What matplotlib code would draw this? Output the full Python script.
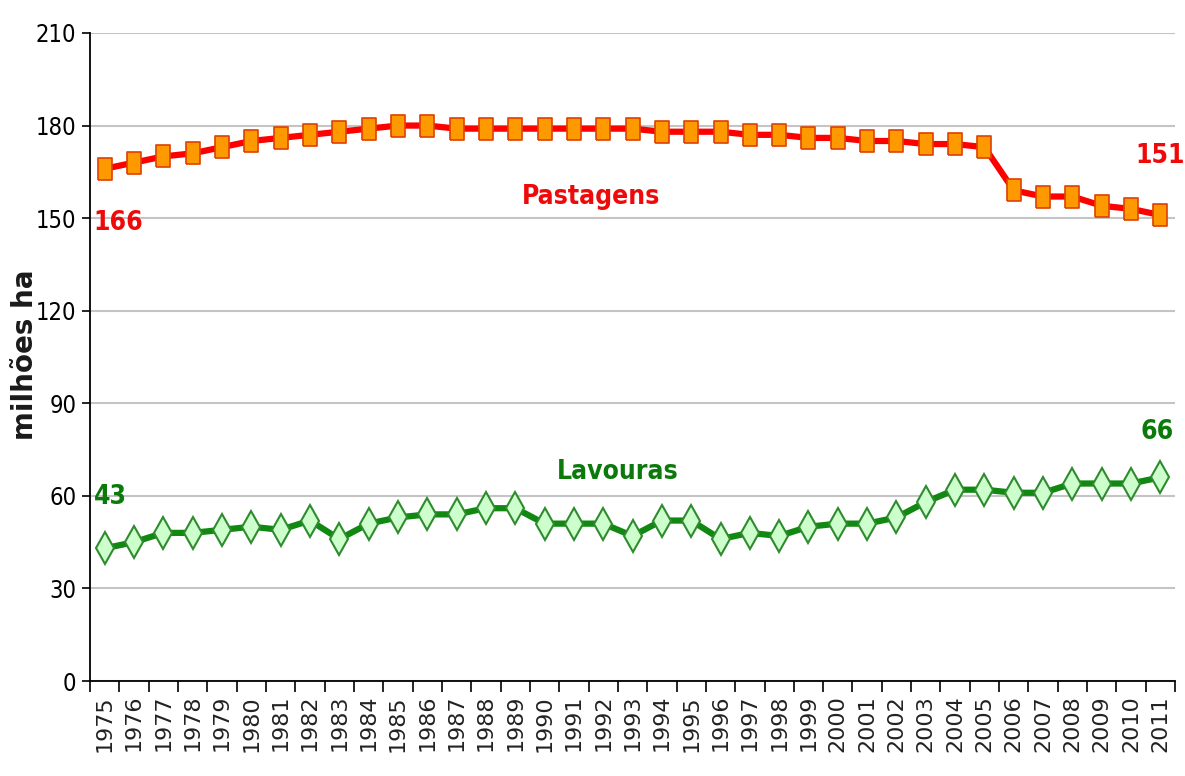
import matplotlib
matplotlib.use('Agg')
import matplotlib.pyplot as plt
from matplotlib.ticker import FixedLocator

# Data (millions of hectares)
anos = list(range(1975, 2012))
pastagens = [166, 168, 170, 171, 173, 175, 176, 177, 178, 179,
             180, 180, 179, 179, 179, 179, 179, 179, 179, 178,
             178, 178, 177, 177, 176, 176, 175, 175, 174, 174,
             173, 159, 157, 157, 154, 153, 151]
lavouras = [43, 45, 48, 48, 49, 50, 49, 52, 46, 51,
            53, 54, 54, 56, 56, 51, 51, 51, 47, 52,
            52, 46, 48, 47, 50, 51, 51, 53, 58, 62,
            62, 61, 61, 64, 64, 64, 66]
y_ticks = [0, 30, 60, 90, 120, 150, 180, 210]

narrow = ['Liberation Sans Narrow', 'DejaVu Sans']
red = '#EE0A0A'
green = '#0B7A0B'

fig = plt.figure(figsize=(11.85, 7.76), dpi=100)
ax = fig.add_axes([0.076, 0.1224, 0.9156, 0.8351])

x = list(range(len(anos)))

# tall rectangle marker (the original chart is stretched vertically)
rect = [(-0.33, -0.5), (0.33, -0.5), (0.33, 0.5), (-0.33, 0.5), (-0.33, -0.5)]

ax.plot(x, pastagens, color='#FF0000', lw=4.5, marker=rect, markersize=16,
        markerfacecolor='#FF9900', markeredgecolor='#E04000', markeredgewidth=1.2,
        zorder=3)
ax.plot(x, lavouras, color='#118811', lw=4.5, marker='d', markersize=16,
        markerfacecolor='#CCFFCC', markeredgecolor='#2E8B2E', markeredgewidth=1.5,
        zorder=3)

ax.set_xlim(-0.5, len(anos) - 0.5)
ax.set_ylim(0, 210)

ax.yaxis.set_major_locator(FixedLocator(y_ticks))
ax.grid(axis='y', color='#C4C4C4', lw=1.5, zorder=0)
ax.set_axisbelow(True)

ax.set_xticks(x)
ax.set_xticklabels([str(a) for a in anos], rotation=90, fontsize=16,
                   family='DejaVu Sans', color='#222222')
ax.tick_params(axis='x', which='major', length=0, pad=10)
ax.set_xticks([i - 0.5 for i in range(len(anos) + 1)], minor=True)
ax.tick_params(axis='x', which='minor', length=8, width=1.2, direction='out')

ax.tick_params(axis='y', length=6, width=1.2, direction='out', labelsize=17, pad=4)
for lbl in ax.get_yticklabels():
    lbl.set_family(narrow)
    lbl.set_stretch('condensed')

for s in ['top', 'right']:
    ax.spines[s].set_visible(False)
for s in ['left', 'bottom']:
    ax.spines[s].set_linewidth(1.3)

fig.text(0.021, 0.5425, 'milhões ha', rotation=90, fontsize=20, fontweight='bold',
         ha='center', va='center', family='DejaVu Sans', color='#1a1a1a')

# annotations
kw = dict(fontweight='bold', family=narrow, stretch='condensed', ha='center', va='center')
ax.text(0.45, 148.5, '166', color=red, fontsize=19, **kw)
ax.text(36.0, 170, '151', color=red, fontsize=19, clip_on=False, **kw)
ax.text(16.6, 157, 'Pastagens', color=red, fontsize=19, **kw)
ax.text(0.2, 59.5, '43', color=green, fontsize=19, **kw)
ax.text(35.9, 80.6, '66', color=green, fontsize=19, clip_on=False, **kw)
ax.text(17.5, 67.6, 'Lavouras', color=green, fontsize=19, **kw)

fig.savefig('out.png', dpi=100)
